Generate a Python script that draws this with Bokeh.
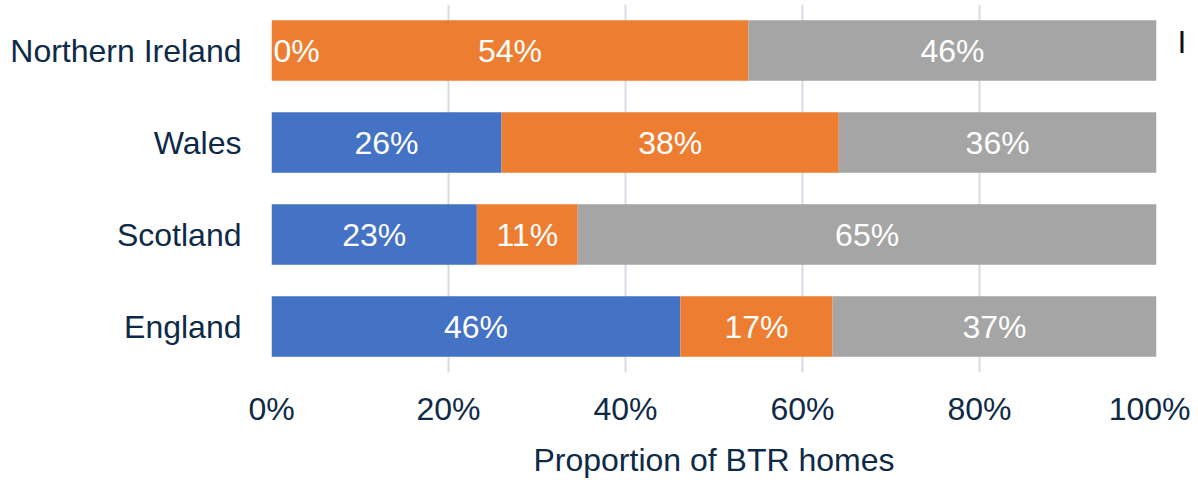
from bokeh.plotting import figure
from bokeh.models import Range1d, FixedTicker, LinearAxis, ColumnDataSource
from bokeh.embed import file_html
from bokeh.resources import INLINE
from bokeh.core.properties import value

# ---- data ----
categories = ["England", "Scotland", "Wales", "Northern Ireland"]
series_keys = ["blue", "orange", "gray"]
blue_vals = [46.2, 23.2, 26.0, 0.0]
orange_vals = [17.2, 11.4, 38.1, 53.9]
gray_vals = [36.6, 65.4, 35.9, 46.1]
x_ticks = [0, 20, 40, 60, 80, 100]
x_tick_labels = ["0%", "20%", "40%", "60%", "80%", "100%"]
axis_title = "Proportion of BTR homes"
legend_fragment = "I"

# ---- style ----
colors = ["#4472C4", "#ED7D31", "#A5A5A5"]
FONT = "Liberation Sans"
NAVY = "#0E2A47"
GRID = "#D9D9E6"
FS = "32px"

ys = list(range(len(categories)))
data = dict(y=ys, blue=blue_vals, orange=orange_vals, gray=gray_vals)
src = ColumnDataSource(data)

p = figure(width=1190, height=480, output_backend="svg", toolbar_location=None,
           x_range=Range1d(0, 100), y_range=Range1d(-0.5, 3.5))
p.min_border_left = 271
p.min_border_right = 34
p.min_border_top = 4
p.min_border_bottom = 107
p.outline_line_color = None
p.background_fill_color = "white"
p.border_fill_color = "white"

p.hbar_stack(series_keys, y="y", height=0.66, color=colors, line_color=None, source=src)

# data labels
cx, cy, ct = [], [], []
zx, zy, zt = [], [], []
for i, y in enumerate(ys):
    left = 0.0
    for vals in (blue_vals, orange_vals, gray_vals):
        v = vals[i]
        txt = f"{round(v)}%"
        if v == 0:
            zx.append(left); zy.append(y); zt.append(txt)
        else:
            cx.append(left + v / 2); cy.append(y); ct.append(txt)
        left += v

p.text(x=cx, y=cy, text=ct, text_color="white", text_align="center", text_baseline="middle",
       text_font=value(FONT), text_font_size=FS)
p.text(x=zx, y=zy, text=zt, text_color="white", text_align="left", text_baseline="middle",
       text_font=value(FONT), text_font_size=FS, x_offset=2)

# axes
p.xaxis.ticker = FixedTicker(ticks=x_ticks)
p.xaxis.major_label_overrides = {t: l for t, l in zip(x_ticks, x_tick_labels)}
p.yaxis.ticker = FixedTicker(ticks=ys)
p.yaxis.major_label_overrides = {y: c for y, c in zip(ys, categories)}

# cut-off legend entry on the right
legend_y = 3.087
raxis = LinearAxis(ticker=FixedTicker(ticks=[legend_y]),
                   major_label_overrides={legend_y: legend_fragment})
p.add_layout(raxis, "right")

for ax in (p.xaxis[0], p.yaxis[0], raxis):
    ax.axis_line_color = None
    ax.major_tick_line_color = None
    ax.minor_tick_line_color = None
    ax.major_tick_out = 0
    ax.major_tick_in = 0
    ax.major_label_text_font = FONT
    ax.major_label_text_font_size = FS
    ax.major_label_text_color = NAVY
raxis.major_label_text_color = "#111111"
raxis.major_label_standoff = 21
p.xaxis.major_label_standoff = 18
p.yaxis[0].major_label_standoff = 30
p.xaxis.axis_label = axis_title
p.xaxis.axis_label_text_font = FONT
p.xaxis.axis_label_text_font_size = FS
p.xaxis.axis_label_text_font_style = "normal"
p.xaxis.axis_label_text_color = NAVY
p.xaxis.axis_label_standoff = 12

p.xgrid.ticker = FixedTicker(ticks=x_ticks)
p.xgrid.grid_line_color = GRID
p.xgrid.grid_line_width = 2
p.ygrid.grid_line_color = None

open("out.html", "w").write(file_html(p, INLINE))
